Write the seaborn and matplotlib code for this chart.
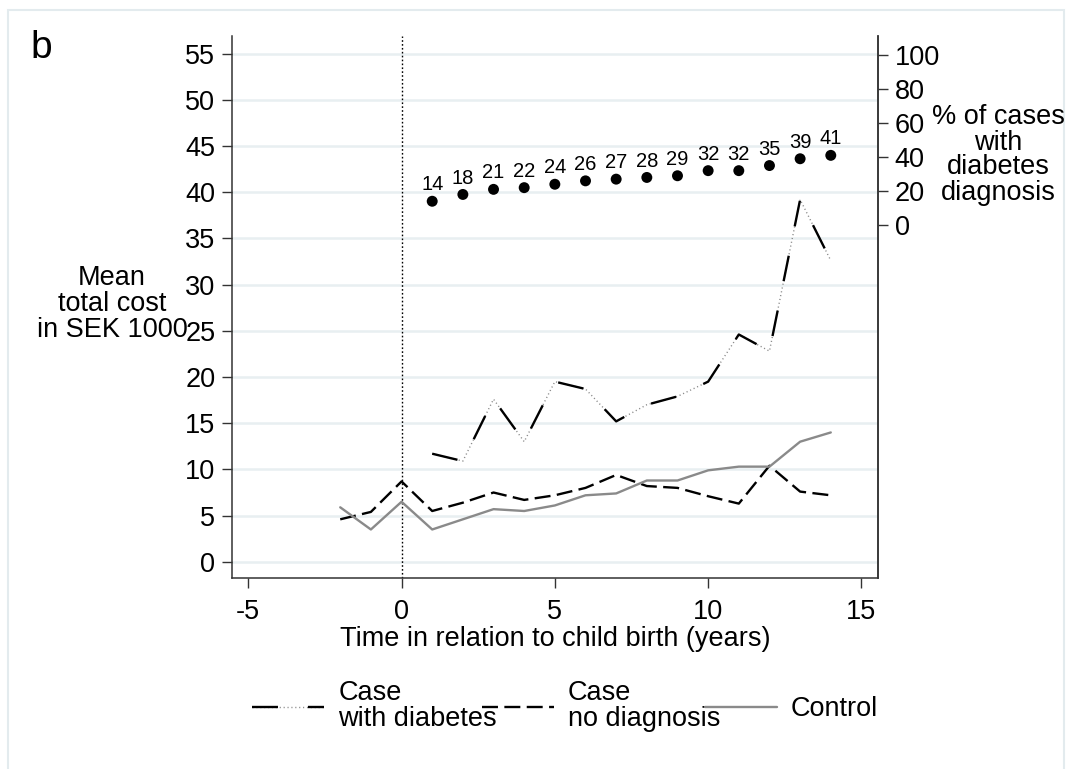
import numpy as np
import pandas as pd
import seaborn as sns
import matplotlib.pyplot as plt
from matplotlib.lines import Line2D
from matplotlib.patches import Rectangle

# data
years_all = list(range(-2, 15))
years_diab = list(range(1, 15))

cost_diab = [11.7, 10.9, 17.6, 13.0, 19.5, 18.7, 15.2, 17.0, 17.9, 19.5, 24.6, 22.8, 39.2, 32.6]
cost_nodiag = [4.6, 5.4, 8.7, 5.5, 6.4, 7.5, 6.7, 7.2, 8.0, 9.4, 8.2, 8.0, 7.1, 6.3, 10.4, 7.6, 7.2]
cost_control = [5.9, 3.5, 6.5, 3.5, 4.6, 5.7, 5.5, 6.1, 7.2, 7.4, 8.8, 8.8, 9.9, 10.3, 10.3, 13.0, 14.0]
pct_diab = [14, 18, 21, 22, 24, 26, 27, 28, 29, 32, 32, 35, 39, 41]

lab_diab = "Case\nwith diabetes"
lab_nodiag = "Case\nno diagnosis"
lab_control = "Control"

df = pd.concat([
    pd.DataFrame({"year": years_diab, "cost": cost_diab, "group": lab_diab}),
    pd.DataFrame({"year": years_all, "cost": cost_nodiag, "group": lab_nodiag}),
    pd.DataFrame({"year": years_all, "cost": cost_control, "group": lab_control}),
])
df_pct = pd.DataFrame({"year": years_diab, "pct": pct_diab})

sns.set_style("white")
plt.rcParams["font.family"] = ["Liberation Sans", "DejaVu Sans"]
plt.rcParams["lines.scale_dashes"] = False
plt.rcParams["axes.unicode_minus"] = False
for k in ["text.color", "axes.labelcolor", "xtick.color", "ytick.color"]:
    plt.rcParams[k] = "black"

FS = 19.5
W, H = 1068, 769
fig = plt.figure(figsize=(W / 100, H / 100), dpi=100)
ax = fig.add_axes([232 / W, 1 - 578 / H, (878 - 232) / W, (578 - 36) / H])

dash_long = (18.7, 21.6)
dash_short = (11.5, 4.6)

# diabetes line: grey fine dots under long black dashes
sns.lineplot(data=df[df.group == lab_diab], x="year", y="cost", color="#888888",
             lw=1.0, linestyle=(0, (0.8, 2.0)), ax=ax, legend=False)
sns.lineplot(data=df, x="year", y="cost", hue="group", style="group",
             palette={lab_diab: "black", lab_nodiag: "black", lab_control: "#8a8a8a"},
             dashes={lab_diab: dash_long, lab_nodiag: dash_short, lab_control: ""},
             lw=1.7, ax=ax, legend=False)

ax.axvline(0, color="black", lw=1.0, linestyle=(0, (1.2, 1.6)), zorder=1)

ax.set_xlim(-5.53, 15.54)
ax.set_ylim(-1.75, 56.9)
ax.set_xticks([-5, 0, 5, 10, 15])
ax.set_yticks(range(0, 60, 5))
ax.yaxis.grid(True, color="#e8eff1", lw=1.8)
ax.xaxis.grid(False)
ax.set_axisbelow(True)
ax.tick_params(axis="both", direction="out", length=7, width=1.0, labelsize=FS,
               left=True, bottom=True, color="#333333")
ax.tick_params(axis="x", pad=8)
ax.tick_params(axis="y", pad=5)
ax.set_xlabel("Time in relation to child birth (years)", fontsize=FS, labelpad=1)
ax.set_ylabel("")
for s in ["left", "bottom", "right"]:
    ax.spines[s].set_color("#333333")
    ax.spines[s].set_linewidth(1.1)
ax.spines["top"].set_visible(False)

# percentage of cases with diagnosis on the right axis
ax2 = ax.twinx()
sns.scatterplot(data=df_pct, x="year", y="pct", color="black", s=62,
                edgecolor="none", ax=ax2, legend=False)
for x, v in zip(years_diab, pct_diab):
    ax2.annotate(str(v), (x, v), xytext=(0, 5), textcoords="offset points",
                 ha="center", va="bottom", fontsize=14.5)
ax2.set_ylim(-207.6, 111.2)
ax2.set_yticks(range(0, 101, 20))
ax2.tick_params(axis="y", direction="out", length=7, width=1.0, labelsize=FS,
                right=True, pad=5, color="#333333")
ax2.set_ylabel("")
for s in ["left", "bottom", "top"]:
    ax2.spines[s].set_visible(False)
ax2.spines["right"].set_color("#333333")
ax2.spines["right"].set_linewidth(1.1)

fig.text(112 / W, 1 - 304 / H, "Mean\ntotal cost\nin SEK 1000", ha="center",
         va="center", fontsize=FS, linespacing=0.98)
fig.text(998 / W, 1 - 155 / H, "% of cases\nwith\ndiabetes\ndiagnosis", ha="center",
         va="center", fontsize=FS, linespacing=0.95)
fig.text(41 / W, 1 - 48 / H, "b", ha="center", va="center", fontsize=28)

# legend
h_diab = (Line2D([], [], color="#888888", lw=1.0, linestyle=(0, (0.8, 2.0))),
          Line2D([], [], color="black", lw=1.7, dashes=dash_long))
h_nodiag = Line2D([], [], color="black", lw=1.7, dashes=dash_short)
h_control = Line2D([], [], color="#8a8a8a", lw=1.7)
leg = fig.legend([h_diab, h_nodiag, h_control], [lab_diab, lab_nodiag, lab_control],
                 ncol=3, loc="center left", bbox_to_anchor=(252 / W, 1 - 706 / H),
                 frameon=False, fontsize=FS, handlelength=2.66, handletextpad=0.52,
                 columnspacing=-0.56, borderpad=0, borderaxespad=0)
for t in leg.get_texts():
    t.set_linespacing(0.95)

fig.patches.append(Rectangle((8 / W, -0.02), (1064 - 8) / W, 1.02 - 10 / H,
                             transform=fig.transFigure, fill=False,
                             edgecolor="#e3ebee", lw=1.5))

fig.savefig("out.png", dpi=100)
